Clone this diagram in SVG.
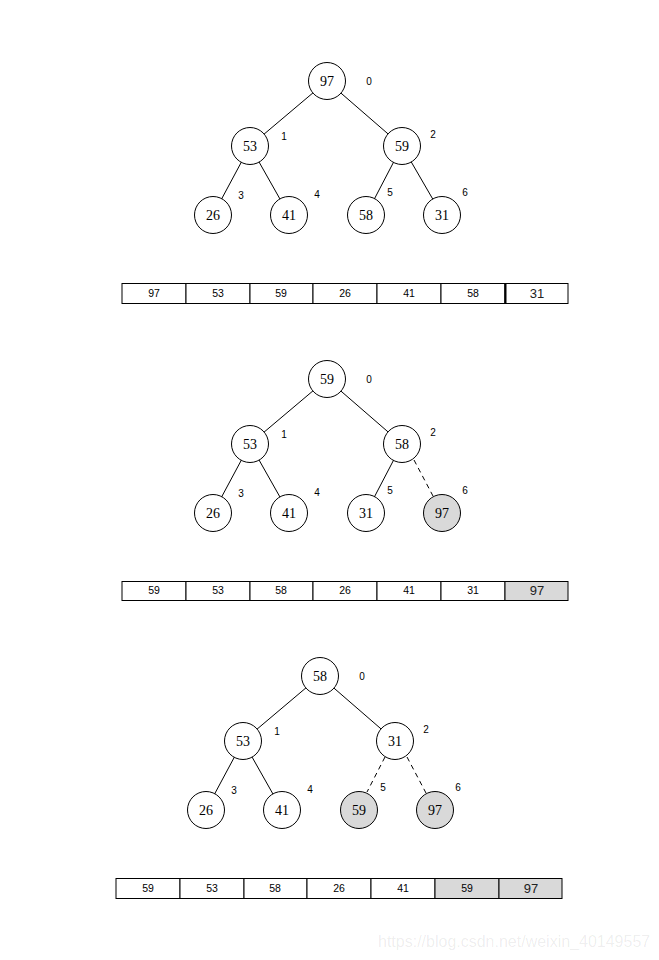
<svg xmlns="http://www.w3.org/2000/svg" width="659" height="960" viewBox="0 0 659 960">
<style>
.bg{fill:#ffffff}
.edge{stroke:#000;stroke-width:1;fill:none}
.dash{stroke:#000;stroke-width:1;fill:none;stroke-dasharray:5,4}
.node{fill:#fff;stroke:#000;stroke-width:1}
.hl{fill:#d9d9d9;stroke:#000;stroke-width:1}
.nt{font-family:"Liberation Serif",serif;font-size:14px;text-anchor:middle;fill:#000}
.idx{font-family:"Liberation Sans",sans-serif;font-size:10px;text-anchor:middle;fill:#000}
.cell{fill:#fff;stroke:#000;stroke-width:1}
.cellg{fill:#d9d9d9;stroke:#000;stroke-width:1}
.ct{font-family:"Liberation Sans",sans-serif;font-size:10.5px;text-anchor:middle;fill:#000}
.cb{font-family:"Liberation Sans",sans-serif;font-size:13px;text-anchor:middle;fill:#222}
.wm{font-family:"Liberation Sans",sans-serif;font-size:16px;fill:#000;fill-opacity:0.08}
</style>
<rect class="bg" x="0" y="0" width="659" height="960"/>

<!-- Tree 1 -->
<g id="tree1">
<g id="t1-edges">
<line class="edge" x1="327" y1="81" x2="250" y2="146"/>
<line class="edge" x1="327" y1="81" x2="402" y2="146"/>
<line class="edge" x1="250" y1="146" x2="213" y2="215"/>
<line class="edge" x1="250" y1="146" x2="289" y2="215"/>
<line class="edge" x1="402" y1="146" x2="366" y2="215"/>
<line class="edge" x1="402" y1="146" x2="442" y2="215"/>
</g>
<g id="t1-n0"><circle class="node" cx="327" cy="81" r="18.5"/><text class="nt" x="327" y="86">97</text><text class="idx" x="369" y="85">0</text></g>
<g id="t1-n1"><circle class="node" cx="250" cy="146" r="18.5"/><text class="nt" x="250" y="151">53</text><text class="idx" x="284" y="140">1</text></g>
<g id="t1-n2"><circle class="node" cx="402" cy="146" r="18.5"/><text class="nt" x="402" y="151">59</text><text class="idx" x="433" y="138">2</text></g>
<g id="t1-n3"><circle class="node" cx="213" cy="215" r="18.5"/><text class="nt" x="213" y="220">26</text><text class="idx" x="241" y="199">3</text></g>
<g id="t1-n4"><circle class="node" cx="289" cy="215" r="18.5"/><text class="nt" x="289" y="220">41</text><text class="idx" x="317" y="198">4</text></g>
<g id="t1-n5"><circle class="node" cx="366" cy="215" r="18.5"/><text class="nt" x="366" y="220">58</text><text class="idx" x="390" y="196">5</text></g>
<g id="t1-n6"><circle class="node" cx="442" cy="215" r="18.5"/><text class="nt" x="442" y="220">31</text><text class="idx" x="465" y="196">6</text></g>
</g>

<g id="array1">
<rect class="cell" x="122" y="283.5" width="64" height="20"/>
<rect class="cell" x="186" y="283.5" width="64" height="20"/>
<rect class="cell" x="250" y="283.5" width="63" height="20"/>
<rect class="cell" x="313" y="283.5" width="64" height="20"/>
<rect class="cell" x="377" y="283.5" width="64" height="20"/>
<rect class="cell" x="441" y="283.5" width="64" height="20"/>
<rect class="cell" x="505" y="283.5" width="63" height="20"/>
<line x1="505.5" y1="283.5" x2="505.5" y2="303.5" stroke="#000" stroke-width="2"/>
<text class="ct" x="154" y="297">97</text>
<text class="ct" x="218" y="297">53</text>
<text class="ct" x="281" y="297">59</text>
<text class="ct" x="345" y="297">26</text>
<text class="ct" x="409" y="297">41</text>
<text class="ct" x="473" y="297">58</text>
<text class="cb" x="537" y="298">31</text>
</g>

<!-- Tree 2 -->
<g id="tree2">
<g id="t2-edges">
<line class="edge" x1="327" y1="379" x2="250" y2="444"/>
<line class="edge" x1="327" y1="379" x2="402" y2="444"/>
<line class="edge" x1="250" y1="444" x2="213" y2="513"/>
<line class="edge" x1="250" y1="444" x2="289" y2="513"/>
<line class="edge" x1="402" y1="444" x2="366" y2="513"/>
<line class="dash" x1="414" y1="460" x2="433" y2="496"/>
</g>
<g id="t2-n0"><circle class="node" cx="327" cy="379" r="18.5"/><text class="nt" x="327" y="384">59</text><text class="idx" x="369" y="383">0</text></g>
<g id="t2-n1"><circle class="node" cx="250" cy="444" r="18.5"/><text class="nt" x="250" y="449">53</text><text class="idx" x="284" y="438">1</text></g>
<g id="t2-n2"><circle class="node" cx="402" cy="444" r="18.5"/><text class="nt" x="402" y="449">58</text><text class="idx" x="433" y="436">2</text></g>
<g id="t2-n3"><circle class="node" cx="213" cy="513" r="18.5"/><text class="nt" x="213" y="518">26</text><text class="idx" x="241" y="497">3</text></g>
<g id="t2-n4"><circle class="node" cx="289" cy="513" r="18.5"/><text class="nt" x="289" y="518">41</text><text class="idx" x="317" y="496">4</text></g>
<g id="t2-n5"><circle class="node" cx="366" cy="513" r="18.5"/><text class="nt" x="366" y="518">31</text><text class="idx" x="390" y="494">5</text></g>
<g id="t2-n6"><circle class="hl" cx="442" cy="513" r="18.5"/><text class="nt" x="442" y="518">97</text><text class="idx" x="465" y="494">6</text></g>
</g>

<g id="array2">
<rect class="cell" x="122" y="581.5" width="64" height="19"/>
<rect class="cell" x="186" y="581.5" width="64" height="19"/>
<rect class="cell" x="250" y="581.5" width="63" height="19"/>
<rect class="cell" x="313" y="581.5" width="64" height="19"/>
<rect class="cell" x="377" y="581.5" width="64" height="19"/>
<rect class="cell" x="441" y="581.5" width="64" height="19"/>
<rect class="cellg" x="505" y="581.5" width="63" height="19"/>
<text class="ct" x="154" y="594">59</text>
<text class="ct" x="218" y="594">53</text>
<text class="ct" x="281" y="594">58</text>
<text class="ct" x="345" y="594">26</text>
<text class="ct" x="409" y="594">41</text>
<text class="ct" x="473" y="594">31</text>
<text class="cb" x="537" y="595">97</text>
</g>

<!-- Tree 3 -->
<g id="tree3">
<g id="t3-edges">
<line class="edge" x1="320" y1="676" x2="243" y2="741"/>
<line class="edge" x1="320" y1="676" x2="395" y2="741"/>
<line class="edge" x1="243" y1="741" x2="206" y2="810"/>
<line class="edge" x1="243" y1="741" x2="282" y2="810"/>
<line class="dash" x1="385" y1="757" x2="367" y2="792"/>
<line class="dash" x1="407" y1="757" x2="426" y2="793"/>
</g>
<g id="t3-n0"><circle class="node" cx="320" cy="676" r="18.5"/><text class="nt" x="320" y="681">58</text><text class="idx" x="362" y="680">0</text></g>
<g id="t3-n1"><circle class="node" cx="243" cy="741" r="18.5"/><text class="nt" x="243" y="746">53</text><text class="idx" x="277" y="735">1</text></g>
<g id="t3-n2"><circle class="node" cx="395" cy="741" r="18.5"/><text class="nt" x="395" y="746">31</text><text class="idx" x="426" y="733">2</text></g>
<g id="t3-n3"><circle class="node" cx="206" cy="810" r="18.5"/><text class="nt" x="206" y="815">26</text><text class="idx" x="234" y="794">3</text></g>
<g id="t3-n4"><circle class="node" cx="282" cy="810" r="18.5"/><text class="nt" x="282" y="815">41</text><text class="idx" x="310" y="793">4</text></g>
<g id="t3-n5"><circle class="hl" cx="359" cy="810" r="18.5"/><text class="nt" x="359" y="815">59</text><text class="idx" x="383" y="791">5</text></g>
<g id="t3-n6"><circle class="hl" cx="435" cy="810" r="18.5"/><text class="nt" x="435" y="815">97</text><text class="idx" x="458" y="791">6</text></g>
</g>

<g id="array3">
<rect class="cell" x="116" y="878.5" width="64" height="20"/>
<rect class="cell" x="180" y="878.5" width="64" height="20"/>
<rect class="cell" x="244" y="878.5" width="63" height="20"/>
<rect class="cell" x="307" y="878.5" width="64" height="20"/>
<rect class="cell" x="371" y="878.5" width="64" height="20"/>
<rect class="cellg" x="435" y="878.5" width="64" height="20"/>
<rect class="cellg" x="499" y="878.5" width="63" height="20"/>
<text class="ct" x="148" y="892">59</text>
<text class="ct" x="212" y="892">53</text>
<text class="ct" x="275" y="892">58</text>
<text class="ct" x="339" y="892">26</text>
<text class="ct" x="403" y="892">41</text>
<text class="ct" x="467" y="892">59</text>
<text class="cb" x="531" y="893">97</text>
</g>

<text class="wm" x="378" y="947">https://blog.csdn.net/weixin_40149557</text>
</svg>
